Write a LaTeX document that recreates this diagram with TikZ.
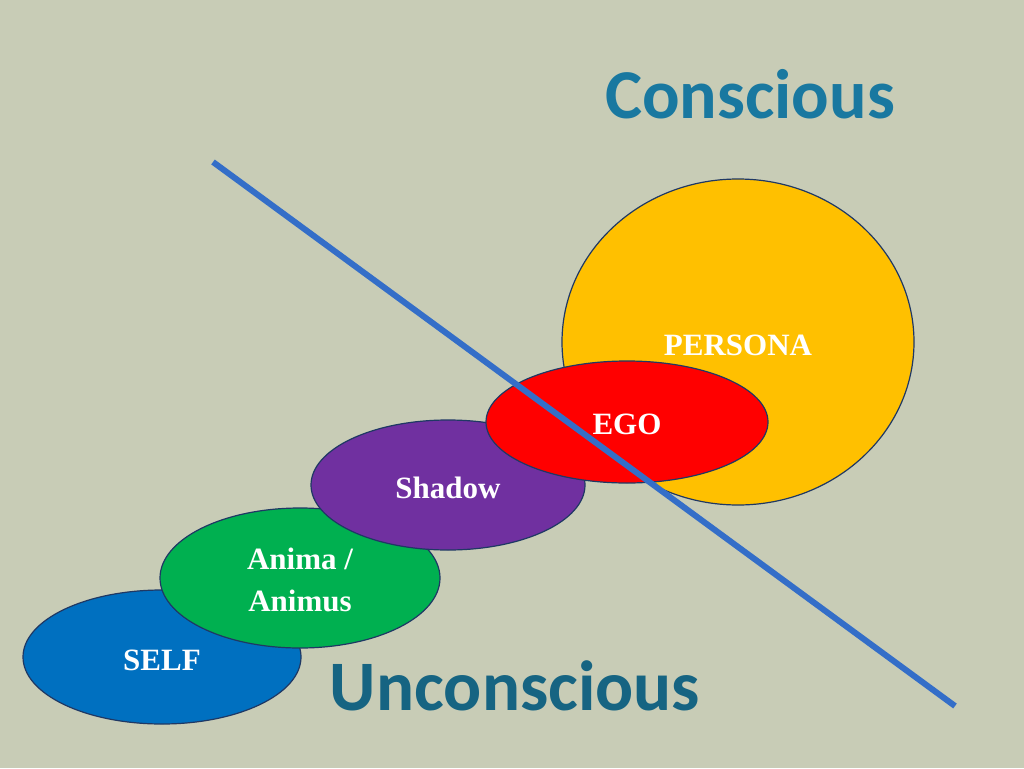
\documentclass[tikz,border=0pt]{standalone}
\usepackage{fontspec}
\setmainfont{Liberation Serif}
\newfontfamily\headfont{Carlito}
\definecolor{bgcol}{RGB}{200,204,182}
\definecolor{rimcol}{RGB}{31,56,100}
\definecolor{splitcol}{RGB}{52,110,200}
\definecolor{headcol}{RGB}{25,120,160}
\definecolor{headdark}{RGB}{22,100,130}
\tikzset{every picture/.style={line width=0.75pt}}
\tikzset{
  blob/.style={draw=rimcol, line width=1.2pt},
  blobtext/.style={text=white, font=\bfseries\fontsize{31}{42}\selectfont, align=center, inner sep=0pt},
}
\begin{document}
\begin{tikzpicture}[x=1pt,y=-1pt]
\useasboundingbox[fill=bgcol] (0,0) rectangle (1024,768);

% circles
\draw[blob, fill={rgb,255:red,255;green,192;blue,0}] (738,342) ellipse [x radius=176, y radius=163];
\draw[blob, fill={rgb,255:red,0;green,112;blue,192}] (162,657) ellipse [x radius=139, y radius=67];
\draw[blob, fill={rgb,255:red,0;green,176;blue,80}] (300,578) ellipse [x radius=140, y radius=70];
\draw[blob, fill={rgb,255:red,112;green,48;blue,160}] (448,485) ellipse [x radius=137, y radius=65];
\draw[blob, fill={rgb,255:red,255;green,0;blue,0}] (627,422) ellipse [x radius=141, y radius=61];

% dividing line
\coordinate (topend) at (213,162);
\coordinate (lowend) at (955,706);
\draw[splitcol, line width=6pt] (topend) -- (lowend);

% labels
\node[blobtext] (persona) at (738,345) {PERSONA};
\node[blobtext] (ego) at (627,424) {EGO};
\node[blobtext] (shadow) at (448,488) {Shadow};
\node[blobtext] (anima) at (300,580) {Anima /\\Animus};
\node[blobtext] (self) at (162,660) {SELF};

\node[text=headcol, font=\headfont\bfseries\fontsize{70}{74}\selectfont] (conscious) at (750,94) {Conscious};
\node[text=headdark, font=\headfont\bfseries\fontsize{71}{75}\selectfont] (unconscious) at (515,686) {Unconscious};
\end{tikzpicture}
\end{document}
